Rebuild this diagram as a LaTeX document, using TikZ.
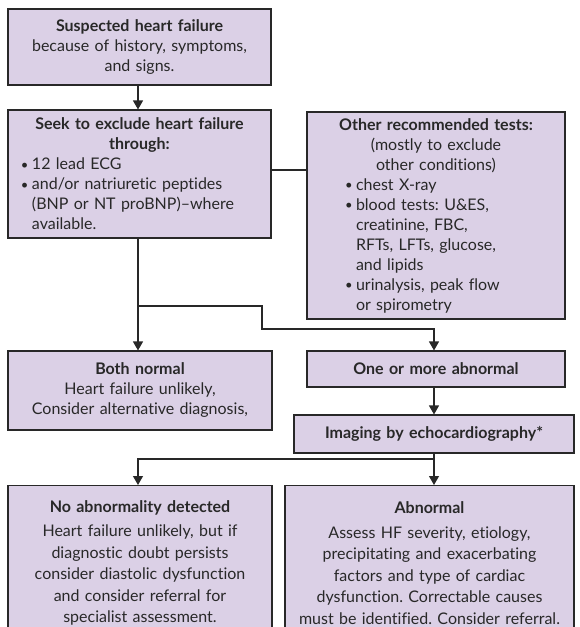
\documentclass[tikz,border=0pt]{standalone}
\usepackage{fontspec}
\setmainfont[Ligatures=NoCommon]{Lato}
\usetikzlibrary{arrows.meta}
\definecolor{boxfill}{RGB}{219,208,230}
\definecolor{ink}{RGB}{40,40,40}
\newcommand\bul{\makebox[11pt][l]{\raisebox{0.5pt}{\fontsize{13}{13}\selectfont •}}}
\newcommand\ind{\hspace*{11pt}}
\frenchspacing
\begin{document}
\begin{tikzpicture}[x=1pt,y=-1pt,
  box/.style={draw=ink, fill=boxfill, line width=1.1pt, inner xsep=0pt, inner ysep=0pt,
    text=ink, font=\fontsize{16}{20}\selectfont, align=center},
  ttl/.style={font=\fontsize{16.5}{20}\selectfont\bfseries},
  arr/.style={draw=ink, line width=1.1pt, -{Triangle[length=9pt,width=10pt]}},
  conn/.style={draw=ink, line width=1.1pt}]
\useasboundingbox[fill=white] (0,0) rectangle (579,627);
\clip (0,0) rectangle (579,627);

\node[box, minimum height=76pt, text width=263pt] (s1) at (139.5,47)
  {\textbf{Suspected heart failure}\\because of history, symptoms,\\and signs.};

\node[box, minimum height=128pt, text width=263pt, align=left] (s2) at (139.5,174)
  {{\centering\bfseries Seek to exclude heart failure\\ through:\par}
   {\leftskip=13pt \bul 12 lead ECG\\ \bul and/or natriuretic peptides\\ \ind(BNP or NT proBNP)–where\\ \ind available.\par}};

\node[box, minimum height=207pt, text width=258pt, align=left] (oth) at (436,215.5)
  {{\centering\bfseries Other recommended tests:\par}
   {\centering (mostly to exclude\\ other conditions)\par}
   {\leftskip=38pt \bul chest X-ray\\ \bul blood tests: U\&ES,\\ \ind creatinine, FBC,\\ \ind RFTs, LFTs, glucose,\\ \ind and lipids\\ \bul urinalysis, peak flow\\ \ind or spirometry\par}};

\node[box, minimum height=79pt, text width=264pt] (both) at (140,390.5)
  {\textbf{Both normal}\\Heart failure unlikely,\\Consider alternative diagnosis,};

\node[box, minimum height=36pt, text width=258pt] (one) at (436,369)
  {\textbf{One or more abnormal}};

\node[box, minimum height=38pt, text width=280pt] (img) at (434,434)
  {\textbf{Imaging by echocardiography*}};

\node[box, anchor=north, minimum height=155pt, text width=264pt,
      font=\fontsize{16}{21.5}\selectfont] (noabn) at (140,485)
  {\textbf{No abnormality detected}\\[3pt]Heart failure unlikely, but if\\diagnostic doubt persists\\consider diastolic dysfunction\\and consider referral for\\specialist assessment.};

\node[box, anchor=north, minimum height=155pt, text width=289pt,
      font=\fontsize{16}{21.5}\selectfont] (abn) at (429.5,485)
  {\textbf{Abnormal}\\[3pt]Assess HF severity, etiology,\\precipitating and exacerbating\\factors and type of cardiac\\dysfunction. Correctable causes\\must be identified. Consider referral.};

\coordinate (cl) at (138,0);
\coordinate (cr) at (434,0);
\coordinate (hy) at (0,170);
\coordinate (b1) at (138,306);
\coordinate (b2) at (262,329);
\coordinate (k) at (434,459);

\draw[arr] (s1.south -| cl) -- (s2.north -| cl);
\draw[conn] (s2.east |- hy) -- (oth.west |- hy);
\draw[arr] (s2.south -| cl) -- (both.north -| cl);
\draw[arr] (b1) -| (b2) -| (one.north -| cr);
\draw[arr] (one.south -| cr) -- (img.north -| cr);
\draw[arr] (img.south -| cr) -- (abn.north -| cr);
\draw[arr] (k) -| (noabn.north -| cl);
\end{tikzpicture}
\end{document}
